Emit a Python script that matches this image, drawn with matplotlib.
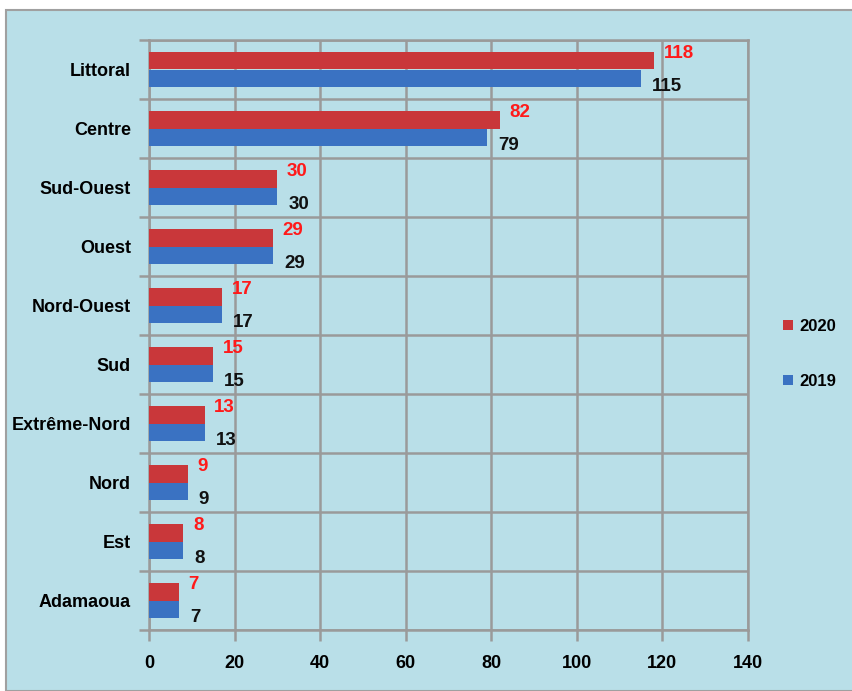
import numpy as np
import matplotlib.pyplot as plt
from matplotlib.patches import Rectangle

regions = ['Littoral', 'Centre', 'Sud-Ouest', 'Ouest', 'Nord-Ouest', 'Sud',
           'Extrême-Nord', 'Nord', 'Est', 'Adamaoua']
v2020 = [118, 82, 30, 29, 17, 15, 13, 9, 8, 7]
v2019 = [115, 79, 30, 29, 17, 15, 13, 9, 8, 7]
xticks = [0, 20, 40, 60, 80, 100, 120, 140]

plt.rcParams['font.family'] = ['Liberation Sans Narrow', 'Liberation Sans', 'DejaVu Sans']
plt.rcParams['font.weight'] = 'bold'

bg = '#b9dfe8'
red = '#c9373a'
blue = '#3a72c2'
grid = '#9a9a9a'

fig = plt.figure(figsize=(8.53, 6.91), dpi=100, facecolor='white')
fig.patches.append(Rectangle((6 / 853, 0), 1, 1 - 10 / 691, transform=fig.transFigure,
                             facecolor=bg, edgecolor='#a0a0a0', linewidth=1.5, zorder=-5))
ax = fig.add_axes([149 / 853, 1 - 630 / 691, (748 - 149) / 853, (630 - 40) / 691])
ax.set_zorder(2)
ax.set_facecolor(bg)

y = np.arange(len(regions))
h = 0.29
ax.barh(y - h / 2, v2020, height=h, color=red, label='2020', zorder=3)
ax.barh(y + h / 2, v2019, height=h, color=blue, label='2019', zorder=3)

for yi, a, b in zip(y, v2020, v2019):
    ax.annotate(str(a), (a, yi - 0.27), xytext=(7, 0), textcoords='offset points',
                ha='left', va='center', color='#ff1a1a', fontsize=13.5, fontweight='bold')
    ax.annotate(str(b), (b, yi + 0.29), xytext=(8, 0), textcoords='offset points',
                ha='left', va='center', color='#111111', fontsize=13.5, fontweight='bold')

ax.set_xlim(0, 140)
ax.set_ylim(len(regions) - 0.5, -0.5)
ax.set_xticks(xticks)
ax.set_yticks(y)
ax.set_yticklabels(regions)
ax.set_yticks(np.arange(len(regions) + 1) - 0.5, minor=True)

ax.grid(axis='x', which='major', color=grid, linewidth=1.8, zorder=1)
ax.grid(axis='y', which='minor', color=grid, linewidth=1.8, zorder=1)
ax.tick_params(axis='y', which='major', length=0, pad=13, labelsize=13)
ax.tick_params(axis='y', which='minor', length=7, width=1.8, color=grid)
ax.tick_params(axis='x', which='major', length=8, width=1.8, color=grid, pad=10, labelsize=13)
for s in ax.spines.values():
    s.set_color(grid)
    s.set_linewidth(1.8)

handles, labels = ax.get_legend_handles_labels()
fig.legend(handles, labels, loc='center left', bbox_to_anchor=(783 / 853, 1 - 354 / 691),
           frameon=False, fontsize=12, handlelength=0.6, handleheight=0.6,
           handletextpad=0.4, labelspacing=2.4, borderaxespad=0, borderpad=0)

fig.savefig('out.png', dpi=100, facecolor=fig.get_facecolor())
